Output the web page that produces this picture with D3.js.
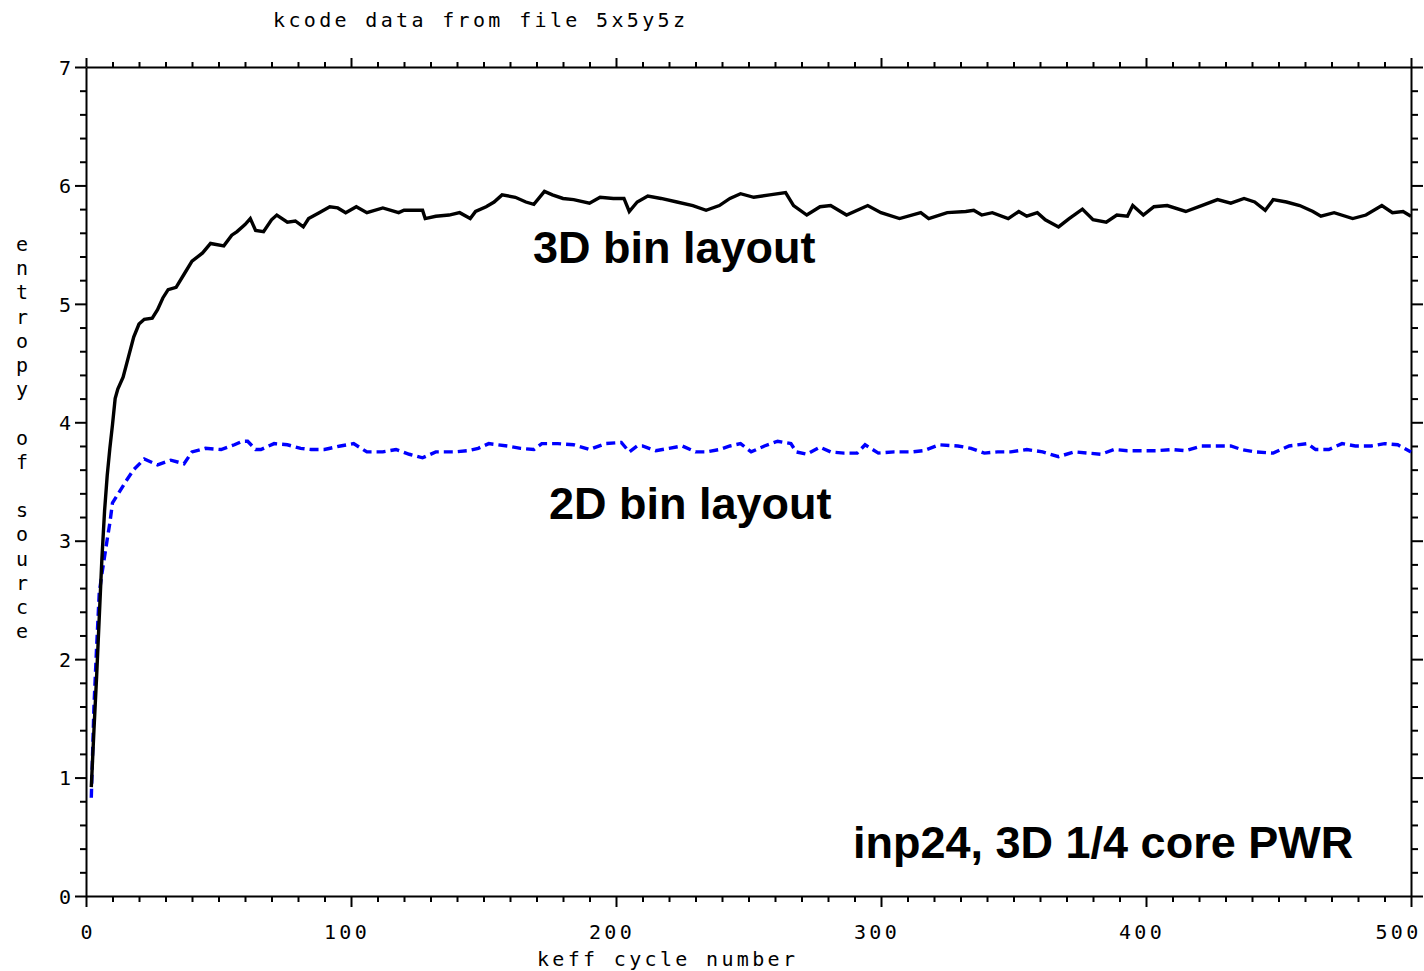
<!DOCTYPE html>
<html>
<head>
<meta charset="utf-8">
<script src="https://cdn.jsdelivr.net/npm/d3@7/dist/d3.min.js"></script>
<style>
  html, body { margin: 0; padding: 0; background: #fff; }
  svg { display: block; }
  .mono { font-family: "DejaVu Sans Mono", "Liberation Mono", monospace; font-size: 20px; fill: #000; }
  .ann { font-family: "Liberation Sans", Arial, Helvetica, sans-serif; font-weight: bold; font-size: 45px; fill: #000; }
</style>
</head>
<body>
<svg id="chart" width="1424" height="971"></svg>
<script>
// ---------- data ----------
const titleText = "kcode data from file 5x5y5z";
const xLabelText = "keff cycle number";
const yLabelText = "entropy of source";

const xMajorTicks = [0, 100, 200, 300, 400, 500];
const yMajorTicks = [0, 1, 2, 3, 4, 5, 6, 7];

const cycles3D = [2, 3, 4, 5, 6, 7, 8, 9, 10, 11, 12, 14, 16, 18, 20, 22, 25, 27, 29, 31, 34, 37, 40, 44, 47, 52, 55, 57, 60, 62, 64, 67, 70, 72, 76, 79, 82, 84, 88, 92, 95, 98, 102, 106, 112, 118, 120, 127, 128, 132, 137, 141, 145, 147, 151, 154, 157, 162, 166, 169, 173, 176, 180, 184, 190, 194, 199, 203, 205, 208, 212, 217, 223, 229, 234, 239, 243, 247, 252, 258, 264, 267, 272, 277, 281, 287, 295, 300, 307, 315, 318, 325, 332, 335, 338, 342, 348, 352, 355, 359, 362, 367, 371, 376, 380, 385, 389, 393, 395, 399, 403, 408, 415, 421, 427, 432, 437, 441, 445, 448, 453, 458, 463, 466, 471, 478, 483, 489, 493, 497, 500];
const entropy3D = [0.92, 1.40, 1.85, 2.35, 2.85, 3.25, 3.55, 3.78, 3.98, 4.20, 4.28, 4.38, 4.55, 4.72, 4.83, 4.87, 4.88, 4.95, 5.05, 5.12, 5.14, 5.25, 5.36, 5.43, 5.51, 5.49, 5.58, 5.61, 5.67, 5.72, 5.62, 5.61, 5.71, 5.75, 5.69, 5.70, 5.65, 5.72, 5.77, 5.82, 5.81, 5.77, 5.82, 5.77, 5.81, 5.77, 5.79, 5.79, 5.72, 5.74, 5.75, 5.77, 5.72, 5.78, 5.82, 5.86, 5.92, 5.90, 5.86, 5.84, 5.95, 5.92, 5.89, 5.88, 5.85, 5.90, 5.89, 5.89, 5.78, 5.86, 5.91, 5.89, 5.86, 5.83, 5.79, 5.83, 5.89, 5.93, 5.90, 5.92, 5.94, 5.83, 5.75, 5.82, 5.83, 5.75, 5.83, 5.77, 5.72, 5.77, 5.72, 5.77, 5.78, 5.79, 5.75, 5.77, 5.72, 5.78, 5.74, 5.77, 5.71, 5.65, 5.72, 5.80, 5.71, 5.69, 5.75, 5.74, 5.83, 5.75, 5.82, 5.83, 5.78, 5.83, 5.88, 5.85, 5.89, 5.86, 5.79, 5.88, 5.86, 5.83, 5.78, 5.74, 5.77, 5.72, 5.75, 5.83, 5.77, 5.78, 5.74];

const cycles2D = [2, 3, 4, 5, 6, 8, 9, 10, 12, 15, 18, 22, 27, 32, 37, 40, 45, 51, 56, 59, 61, 64, 66, 71, 76, 81, 85, 90, 96, 101, 106, 112, 117, 122, 127, 132, 139, 144, 148, 152, 159, 164, 169, 172, 178, 184, 190, 196, 202, 205, 208, 210, 215, 220, 225, 230, 234, 239, 243, 247, 251, 256, 261, 266, 268, 272, 277, 281, 286, 291, 294, 299, 305, 312, 316, 322, 329, 334, 339, 344, 349, 355, 361, 367, 373, 378, 383, 388, 393, 398, 404, 410, 415, 421, 427, 432, 436, 441, 448, 454, 461, 464, 469, 474, 479, 485, 490, 495, 500];
const entropy2D = [0.83, 1.60, 2.10, 2.56, 2.72, 3.01, 3.15, 3.32, 3.39, 3.50, 3.60, 3.69, 3.64, 3.68, 3.65, 3.75, 3.78, 3.77, 3.81, 3.84, 3.84, 3.77, 3.77, 3.82, 3.81, 3.78, 3.77, 3.77, 3.80, 3.82, 3.75, 3.75, 3.77, 3.73, 3.70, 3.75, 3.75, 3.76, 3.78, 3.82, 3.80, 3.78, 3.77, 3.82, 3.82, 3.81, 3.77, 3.82, 3.83, 3.75, 3.80, 3.80, 3.76, 3.78, 3.80, 3.75, 3.75, 3.77, 3.80, 3.82, 3.75, 3.80, 3.84, 3.82, 3.75, 3.73, 3.79, 3.75, 3.74, 3.74, 3.81, 3.74, 3.75, 3.75, 3.76, 3.81, 3.80, 3.78, 3.74, 3.75, 3.75, 3.77, 3.75, 3.71, 3.75, 3.74, 3.73, 3.77, 3.76, 3.76, 3.76, 3.77, 3.76, 3.80, 3.80, 3.80, 3.77, 3.75, 3.74, 3.80, 3.82, 3.77, 3.77, 3.82, 3.80, 3.80, 3.82, 3.81, 3.75];

const annotations = ["3D bin layout", "2D bin layout", "inp24, 3D 1/4 core PWR"];

// ---------- layout ----------
(function () {
const svg = d3.select("#chart");
const mLeft = 86, mRight = 1411, mTop = 67, mBottom = 896;
const x = d3.scaleLinear().domain([0, 500]).range([mLeft, mRight]);
const y = d3.scaleLinear().domain([0, 7]).range([mBottom, mTop]);

const majorLen = 11, minorLen = 6;
const xMinor = d3.range(0, 501, 10).filter(v => v % 100 !== 0);
const yMinor = d3.range(0, 35).map(i => i / 5).filter((v, i) => i % 5 !== 0);

function styleAxis(g) {
  g.selectAll("path.domain").attr("stroke", "#000").attr("stroke-width", 2);
  g.selectAll(".tick line").attr("stroke", "#000").attr("stroke-width", 2);
}

// bottom
const gB = svg.append("g").attr("transform", `translate(0,${mBottom})`);
gB.call(d3.axisBottom(x).tickValues(xMajorTicks).tickSize(majorLen).tickSizeOuter(0).tickFormat(d3.format("d")));
gB.append("g").call(d3.axisBottom(x).tickValues(xMinor).tickSize(minorLen).tickFormat("")).select("path.domain").remove();
styleAxis(gB);
gB.selectAll(".tick text")
  .attr("class", "mono")
  .style("letter-spacing", "3.3px")
  .attr("y", 29).attr("dy", "0.71em")
  .attr("text-anchor", d => d === 500 ? "end" : "middle")
  .attr("dx", d => d === 0 ? 1.6 : (d === 500 ? 10 : -4.5));
gB.attr("font-size", null).attr("font-family", null);

// top
const gT = svg.append("g").attr("transform", `translate(0,${mTop})`);
gT.call(d3.axisTop(x).tickValues(xMajorTicks).tickSize(majorLen - 2).tickSizeOuter(0).tickFormat(""));
gT.append("g").call(d3.axisTop(x).tickValues(xMinor).tickSize(minorLen - 1).tickFormat("")).select("path.domain").remove();
styleAxis(gT);

// left
const gL = svg.append("g").attr("transform", `translate(${mLeft},0)`);
gL.call(d3.axisLeft(y).tickValues(yMajorTicks).tickSize(majorLen).tickSizeOuter(0).tickFormat(d3.format("d")));
gL.append("g").call(d3.axisLeft(y).tickValues(yMinor).tickSize(minorLen).tickFormat("")).select("path.domain").remove();
styleAxis(gL);
gL.selectAll(".tick text")
  .attr("class", "mono")
  .attr("x", -15).attr("dy", "0.36em");
gL.attr("font-size", null).attr("font-family", null);

// right
const gR = svg.append("g").attr("transform", `translate(${mRight},0)`);
gR.call(d3.axisRight(y).tickValues(yMajorTicks).tickSize(majorLen + 1).tickSizeOuter(0).tickFormat(""));
gR.append("g").call(d3.axisRight(y).tickValues(yMinor).tickSize(minorLen + 1).tickFormat("")).select("path.domain").remove();
styleAxis(gR);

// ---------- lines ----------
const line = d3.line().x(d => x(d[0])).y(d => y(d[1])).curve(d3.curveLinear);

svg.append("path")
  .datum(d3.zip(cycles2D, entropy2D))
  .attr("d", line)
  .attr("fill", "none")
  .attr("stroke", "#0000ff")
  .attr("stroke-width", 3.4)
  .attr("stroke-dasharray", "9,5");

svg.append("path")
  .datum(d3.zip(cycles3D, entropy3D))
  .attr("d", line)
  .attr("fill", "none")
  .attr("stroke", "#000")
  .attr("stroke-width", 3.4)
  .attr("stroke-linejoin", "miter");

// ---------- texts ----------
svg.append("text").attr("class", "mono")
  .attr("x", 273).attr("y", 27)
  .attr("textLength", 412).attr("lengthAdjust", "spacing")
  .text(titleText);

svg.append("text").attr("class", "mono")
  .attr("x", 537).attr("y", 966)
  .attr("textLength", 258).attr("lengthAdjust", "spacing")
  .text(xLabelText);

const yl = svg.append("text").attr("class", "mono").attr("text-anchor", "middle");
yl.selectAll("tspan")
  .data(Array.from(yLabelText))
  .join("tspan")
  .attr("x", 22)
  .attr("y", (d, i) => 251 + i * 24.2)
  .text(d => d === " " ? "\u00a0" : d);

svg.append("text").attr("class", "ann").attr("x", 533).attr("y", 263).text(annotations[0]);
svg.append("text").attr("class", "ann").attr("x", 549).attr("y", 519).text(annotations[1]);
svg.append("text").attr("class", "ann").attr("x", 853).attr("y", 858).text(annotations[2]);
})();
</script>
</body>
</html>
